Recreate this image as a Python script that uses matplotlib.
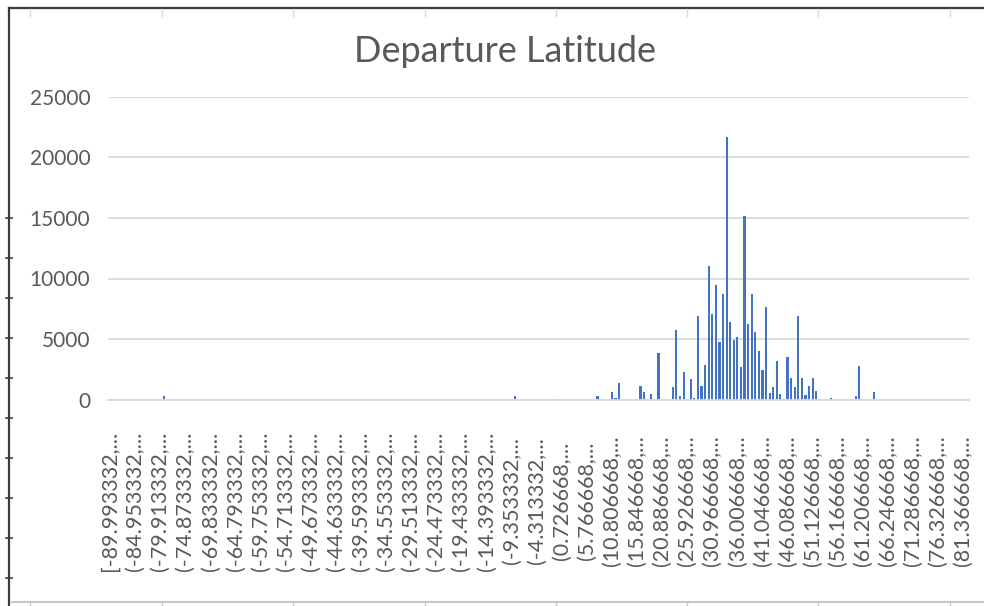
import matplotlib
matplotlib.use("Agg")
import matplotlib.pyplot as plt
from matplotlib.lines import Line2D

# Histogram bins: 240 bins of width 0.72 degrees starting at -89.993332
BIN_START = -89.993332
BIN_WIDTH = 0.72
N_BINS = 240
LABEL_EVERY = 7

# Flight counts per bin (bin index -> count); all other bins are empty
nonzero_bins = [15, 113, 125, 136, 140, 141, 142, 148, 149, 151, 153, 157, 158,
                159, 160, 162, 163, 164, 165, 166, 167, 168, 169, 170, 171, 172,
                173, 174, 175, 176, 177, 178, 179, 180, 181, 182, 183, 184, 185,
                186, 187, 189, 190, 191, 192, 193, 194, 195, 196, 197, 201, 208,
                209, 213]
nonzero_counts = [250, 280, 80, 250, 600, 150, 1400, 1120, 600, 450, 3850, 1050,
                  5720, 300, 2280, 1680, 150, 6900, 1120, 2850, 11000, 7050, 9500,
                  4750, 8700, 21700, 6400, 4900, 5180, 2700, 15180, 6280, 8700,
                  5560, 3980, 2420, 7620, 560, 1000, 3150, 450, 3520, 1800, 1000,
                  6900, 1800, 350, 1120, 1800, 700, 100, 320, 2780, 580]

title = "Departure Latitude"
y_ticks = [0, 5000, 10000, 15000, 20000, 25000]

counts = [0] * N_BINS
for b, c in zip(nonzero_bins, nonzero_counts):
    counts[b] = c

FONT = "Lato"
TEXT_GRAY = "#595959"
GRID_GRAY = "#D9D9D9"
BAR_BLUE = "#4472C4"

W, H = 984, 606
fig = plt.figure(figsize=(W / 100, H / 100), dpi=100)
fig.patch.set_facecolor("white")

# plot area in pixel coordinates
left_px, right_px, top_px, bottom_px = 108.2, 968.6, 97, 399.5
ax = fig.add_axes([left_px / W, 1 - bottom_px / H,
                   (right_px - left_px) / W, (bottom_px - top_px) / H])

x = list(range(N_BINS))
ax.bar(x, counts, width=0.6, color=BAR_BLUE, zorder=3)

ax.set_xlim(-0.5, N_BINS - 0.5)
ax.set_ylim(0, 25000)
ax.set_yticks(y_ticks)
ax.set_yticklabels([str(v) for v in y_ticks], fontfamily=FONT, fontsize=15,
                   color=TEXT_GRAY)
ax.yaxis.grid(True, color=GRID_GRAY, linewidth=1.3, zorder=0)
ax.tick_params(axis="y", length=0, pad=13)

tick_pos = list(range(0, N_BINS, LABEL_EVERY))
labels = []
for k in tick_pos:
    lo = BIN_START + BIN_WIDTH * k
    bracket = "[" if k == 0 else "("
    labels.append(f"{bracket}{lo:.6f},...")
ax.set_xticks(tick_pos)
ax.set_xticklabels(labels, rotation=90, fontfamily=FONT, fontsize=15.5,
                   color=TEXT_GRAY, va="center", ha="center")
ax.tick_params(axis="x", length=0, pad=73)

for side in ("left", "right", "top"):
    ax.spines[side].set_visible(False)
ax.spines["bottom"].set_color(GRID_GRAY)
ax.spines["bottom"].set_linewidth(1.3)
ax.spines["bottom"].set_zorder(4)

fig.text(505 / W, 1 - 51 / H, title, ha="center", va="center",
         fontfamily=FONT, fontsize=26, color=TEXT_GRAY)

# surrounding worksheet frame
def px_line(x0, y0, x1, y1, color, lw):
    fig.add_artist(Line2D([x0 / W, x1 / W], [1 - y0 / H, 1 - y1 / H],
                          transform=fig.transFigure, color=color, linewidth=lw))

px_line(9, 8, W, 8, "#3A3A3A", 1.6)
px_line(9, 8, 9, H, "#3A3A3A", 1.6)
px_line(12, 602, W, 602, "#C8C8C8", 1.5)
for cx in [30, 162, 293, 425, 556, 687, 818, 950]:
    px_line(cx, 602, cx, H, "#C8C8C8", 1.0)
    px_line(cx, 9, cx, 16, "#D8D8D8", 1.0)
for cy in [218, 258, 298, 338, 378, 418, 458, 498, 538, 578]:
    px_line(6, cy, 12, cy, "#3A3A3A", 1.2)

fig.savefig("out.png", dpi=100, facecolor="white")
